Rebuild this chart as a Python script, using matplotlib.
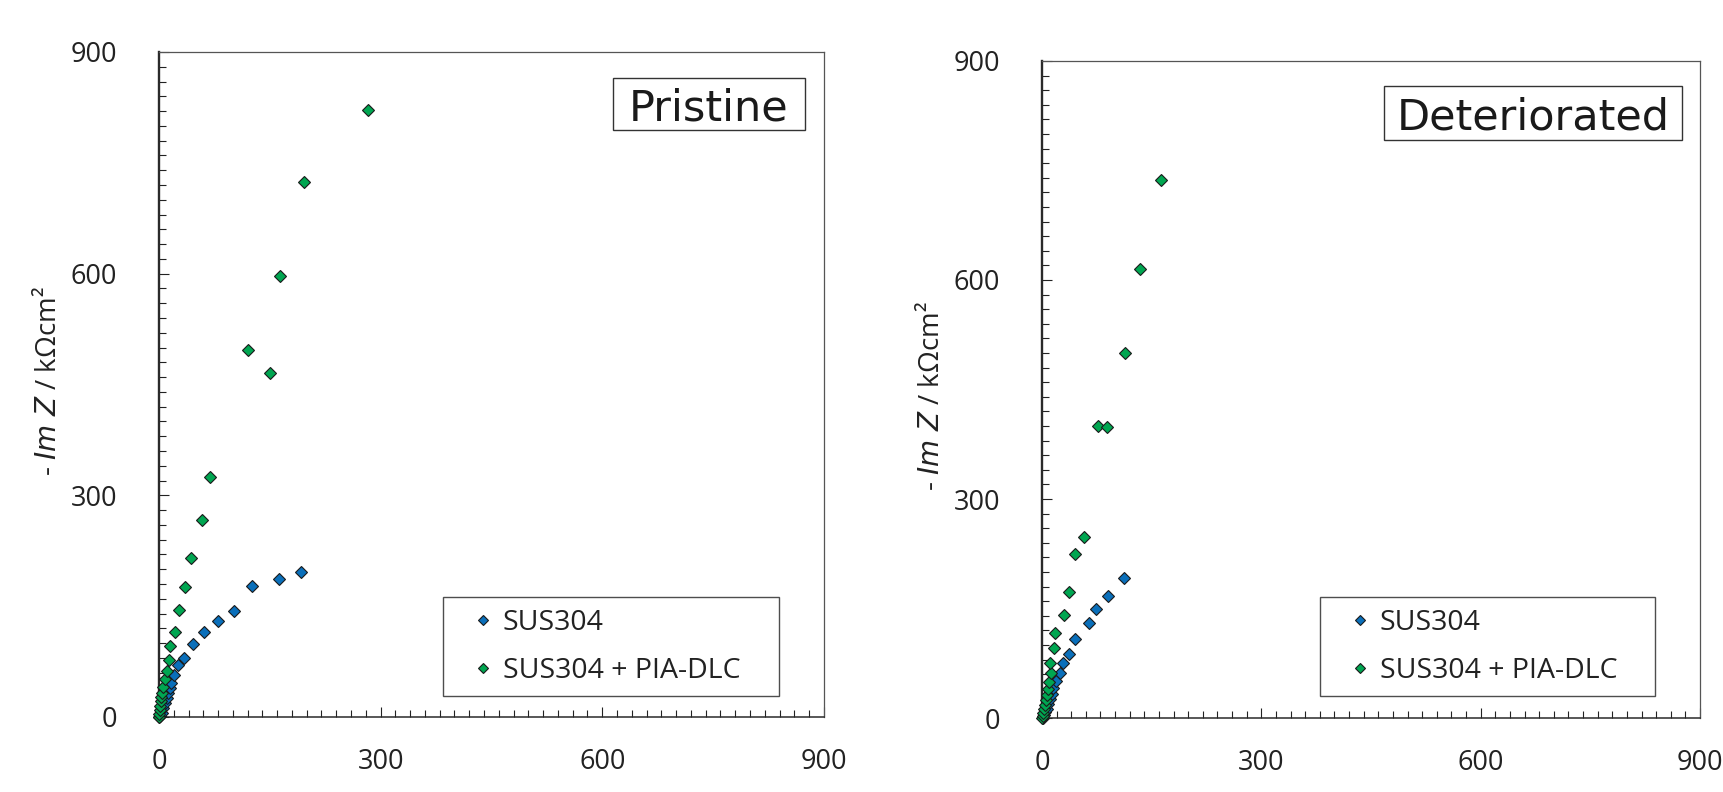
import matplotlib
matplotlib.use('Agg')
import matplotlib.pyplot as plt
import matplotlib.ticker as mticker
from matplotlib.patches import Rectangle

FONT = ['Open Sans', 'DejaVu Sans']
plt.rcParams['font.family'] = FONT
plt.rcParams['mathtext.fontset'] = 'dejavusans'

# ── Data (kΩcm²) ─────────────────────────────────────────────────────────────
SERIES = ["SUS304", "SUS304 + PIA-DLC"]
COLORS = ["#0a6fba", "#00a651"]

pristine_sus_x = [0.5, 1.5, 3.5, 5.8, 8.1, 10.4, 12.6, 14.9, 16.6, 20.7, 25.6,
                  33.4, 46.1, 60.6, 79.3, 101.6, 126.4, 162.0, 191.6]
pristine_sus_y = [0.5, 2.0, 5.0, 11.8, 18.5, 25.3, 32.0, 38.8, 45.5, 56.5, 69.7,
                  79.6, 98.5, 114.4, 129.4, 143.9, 177.3, 186.5, 196.4]
pristine_dlc_x = [0.3, 0.6, 1.2, 1.7, 2.5, 3.4, 4.5, 5.8, 8.0, 10.6, 13.4, 14.8,
                  21.4, 27.5, 35.2, 43.7, 58.2, 69.0, 120.0, 150.5, 164.4, 196.4, 282.7]
pristine_dlc_y = [0.5, 4.0, 9.9, 15.3, 21.2, 26.6, 32.9, 40.9, 51.7, 62.5, 77.0, 96.6,
                  115.0, 144.5, 175.4, 214.6, 267.2, 324.3, 496.2, 466.0, 597.1, 723.8, 821.5]

det_sus_x = [0.8, 2.5, 4.5, 6.5, 8.5, 11.0, 13.2, 15.5, 19.2, 24.6, 28.3, 37.3,
             45.1, 64.3, 74.3, 90.3, 112.2]
det_sus_y = [0.5, 4.0, 8.0, 13.0, 19.0, 26.0, 33.0, 41.4, 50.4, 61.9, 75.6, 88.0,
             108.0, 129.9, 149.1, 166.5, 192.3]
det_dlc_x = [0.4, 1.0, 2.0, 3.0, 4.0, 5.0, 6.5, 8.0, 9.6, 11.9, 10.5, 16.0, 18.2,
             29.6, 36.5, 45.4, 56.8, 76.0, 89.5, 114.1, 134.2, 162.2]
det_dlc_y = [0.5, 3.0, 7.0, 12.0, 18.0, 25.0, 32.0, 40.0, 49.0, 61.4, 75.1, 96.2, 116.2,
             141.8, 172.3, 225.0, 248.2, 400.0, 398.9, 500.3, 614.6, 737.6]

PANELS = [
    ("Pristine", [(pristine_sus_x, pristine_sus_y), (pristine_dlc_x, pristine_dlc_y)]),
    ("Deteriorated", [(det_sus_x, det_sus_y), (det_dlc_x, det_dlc_y)]),
]

YLABEL = "- $\\mathit{Im\\ Z}$ / kΩcm²"

# ── Figure ───────────────────────────────────────────────────────────────────
fig = plt.figure(figsize=(17.24, 7.92), dpi=100)
fig.patch.set_facecolor("white")

axes_rects = [[0.0922, 0.0947, 0.3857, 0.8397],
              [0.6044, 0.0934, 0.3817, 0.8296]]
# title boxes in axes fraction: x0, y0, x1, y1
title_boxes = [(0.683, 0.882, 0.971, 0.961), (0.520, 0.880, 0.973, 0.962)]
legend_box = [(0.427, 0.0316, 0.505, 0.15), (0.4225, 0.0335, 0.5095, 0.15)]
label_pos = [(-0.144, 0.505), (-0.146, 0.49)]

for i, (title, series) in enumerate(PANELS):
    ax = fig.add_axes(axes_rects[i])

    for (xs, ys), name, col in zip(series, SERIES, COLORS):
        ax.plot(xs, ys, ls="none", marker="D", ms=6.6, mfc=col, mec="#1a1a1a",
                mew=0.8, label=name, clip_on=False, zorder=3)

    ax.set_xlim(0, 900)
    ax.set_ylim(0, 900)
    ax.xaxis.set_major_locator(mticker.MultipleLocator(300))
    ax.yaxis.set_major_locator(mticker.MultipleLocator(300))
    ax.xaxis.set_minor_locator(mticker.MultipleLocator(20))
    ax.yaxis.set_minor_locator(mticker.MultipleLocator(20))
    ax.tick_params(which="both", direction="in", top=False, right=False,
                   color="#222222", width=0.8)
    ax.tick_params(which="major", length=7.5)
    ax.tick_params(which="minor", length=4.8)
    ax.tick_params(axis="y", which="major", pad=30, labelsize=19.5, labelcolor="#222222")
    ax.tick_params(axis="x", which="major", pad=22, labelsize=19.5, labelcolor="#222222")

    ax.spines["left"].set_linewidth(1.7)
    ax.spines["left"].set_color("#2a2a2a")
    ax.spines["bottom"].set_linewidth(1.1)
    ax.spines["bottom"].set_color("#2a2a2a")
    for s in ("top", "right"):
        ax.spines[s].set_linewidth(0.9)
        ax.spines[s].set_color("#555555")

    ax.set_ylabel(YLABEL, fontsize=20, color="#222222")
    ax.yaxis.set_label_coords(*label_pos[i])

    x0, y0, x1, y1 = title_boxes[i]
    ax.add_patch(Rectangle((x0, y0), x1 - x0, y1 - y0, transform=ax.transAxes,
                           fc="white", ec="#333333", lw=1.0, zorder=4))
    ax.text((x0 + x1) / 2, (y0 + y1) / 2, title, transform=ax.transAxes,
            ha="center", va="center_baseline", fontsize=31, family="DejaVu Sans",
            color="#1a1a1a", zorder=5)

    leg = ax.legend(loc="lower left", bbox_to_anchor=legend_box[i], mode="expand",
                    borderaxespad=0, fontsize=20.5, frameon=True, fancybox=False,
                    edgecolor="#222222", markerscale=0.78, handlelength=2.0,
                    handletextpad=-0.3, borderpad=0.4, labelspacing=0.7)
    leg.get_frame().set_linewidth(1.0)
    for t in leg.get_texts():
        t.set_color("#222222")

plt.savefig("out.png", dpi=100, facecolor="white")
